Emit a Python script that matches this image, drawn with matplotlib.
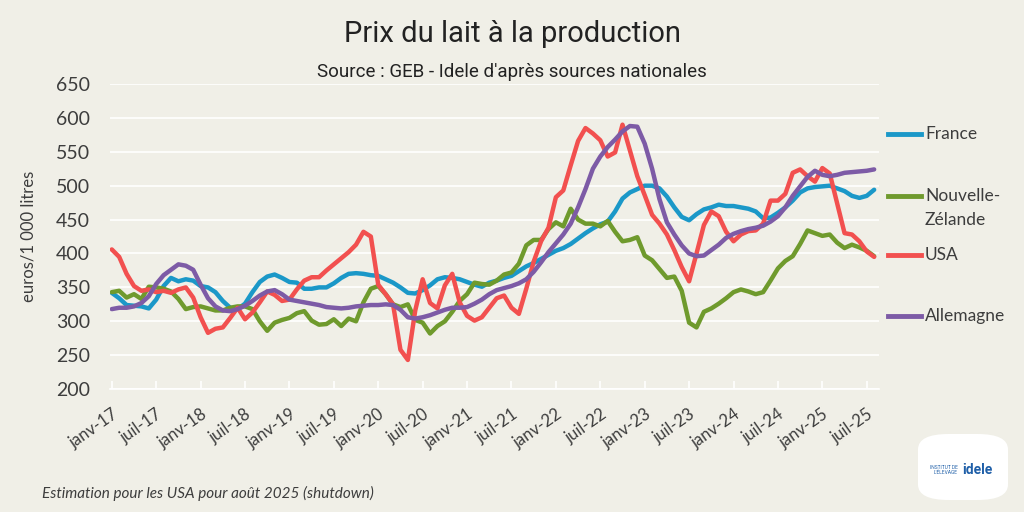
import matplotlib.pyplot as plt
from matplotlib.lines import Line2D
from matplotlib.patches import FancyBboxPatch
import numpy as np

# monthly values, janv-2017 -> août-2025 (euros / 1 000 litres)
france = [342, 334, 324, 323, 322, 319, 332, 352, 364, 359, 362, 360,
          352, 350, 343, 330, 320, 318, 326, 343, 358, 366, 369, 364,
          358, 357, 348, 348, 350, 350, 356, 364, 370, 371, 370, 368,
          367, 362, 357, 350, 342, 341, 346, 353, 362, 365, 364, 362,
          358, 354, 351, 357, 360, 364, 367, 374, 381, 386, 392, 398,
          404, 408, 414, 422, 430, 437, 443, 447, 462, 481, 490, 495,
          500, 500, 496, 484, 468, 454, 449, 458, 465, 468, 472, 470,
          470, 468, 466, 462, 452, 453, 460, 468, 478, 490, 496, 498,
          499, 500, 496, 492, 485, 482, 485, 494]
nz = [343, 345, 335, 340, 333, 351, 350, 348, 344, 333, 318, 321,
      322, 319, 316, 316, 320, 322, 322, 318, 300, 286, 298, 302,
      305, 312, 315, 301, 295, 296, 303, 293, 304, 300, 328, 348,
      352, 340, 325, 321, 325, 302, 298, 282, 293, 300, 314, 330,
      340, 357, 355, 354, 360, 369, 372, 385, 412, 420, 420, 436,
      446, 440, 466, 450, 444, 444, 440, 448, 432, 418, 420, 424,
      397, 390, 377, 364, 366, 345, 298, 291, 314, 319, 326, 334,
      343, 347, 344, 340, 343, 360, 378, 389, 396, 414, 434, 430,
      426, 428, 416, 408, 413, 409, 404, 396]
usa = [406, 395, 370, 352, 345, 347, 343, 345, 342, 347, 350, 335,
       306, 283, 289, 291, 305, 320, 303, 313, 328, 344, 339, 330,
       332, 347, 360, 365, 365, 375, 384, 393, 402, 413, 432, 425,
       354, 340, 325, 258, 243, 316, 362, 327, 319, 353, 370, 328,
       308, 301, 306, 320, 334, 338, 320, 311, 348, 388, 418, 438,
       483, 493, 530, 566, 585, 577, 567, 543, 549, 590, 552, 514,
       486, 457, 444, 428, 405, 380, 359, 400, 442, 462, 455, 432,
       418, 428, 433, 434, 444, 478, 478, 488, 519, 524, 514, 506,
       526, 518, 474, 430, 428, 418, 403, 395]
allemagne = [318, 320, 320, 322, 327, 337, 355, 368, 376, 384, 382, 376,
             354, 334, 322, 316, 315, 318, 323, 330, 338, 344, 346, 340,
             332, 330, 328, 326, 324, 321, 320, 319, 320, 322, 323, 324,
             324, 325, 324, 317, 306, 304, 306, 309, 313, 317, 320, 320,
             321, 326, 332, 340, 346, 349, 352, 356, 362, 373, 387, 402,
             415, 428, 444, 468, 495, 525, 543, 557, 568, 580, 588, 587,
             562, 525, 480, 446, 428, 412, 400, 396, 397, 405, 413, 423,
             429, 433, 436, 438, 441, 447, 455, 468, 485, 499, 513, 522,
             516, 514, 516, 519, 520, 521, 522, 524]

series_names = ["France", "Nouvelle-\nZélande", "USA", "Allemagne"]
series_colors = ["#1b98c8", "#6f9a2d", "#f2504f", "#7d5ba6"]
years = ["17", "18", "19", "20", "21", "22", "23", "24", "25"]
tick_labels = []
for y in years:
    tick_labels += ["janv-" + y, "juil-" + y]

bg = "#f0efe7"
txt = "#3d3d3d"

fig = plt.figure(figsize=(10.24, 5.12), dpi=100, facecolor=bg)
ax = fig.add_axes([0.107, 0.240, 0.751, 0.596], facecolor=bg)

months = np.arange(len(france))
all_series = [france, nz, usa, allemagne]
for vals, col in zip(all_series, series_colors):
    ax.plot(months, vals, color=col, lw=3.2, solid_capstyle="round", zorder=3)

ax.set_ylim(200, 650)
ax.set_xlim(-0.3, 103.6)
ax.set_yticks(range(200, 651, 50))
ax.grid(axis="y", color="white", lw=1.2, zorder=0)
xt = np.arange(0, 104, 6)
ax.set_xticks(xt)
ax.set_xticklabels(tick_labels[:len(xt)], rotation=35,
                   ha="right", rotation_mode="anchor", fontsize=12,
                   color=txt, family="Lato")
for lab in ax.get_yticklabels():
    lab.set_family("Lato")
ax.tick_params(axis="y", length=0, labelsize=14, labelcolor=txt, pad=14)
ax.tick_params(axis="x", color="white", length=6, width=1.2, direction="in", pad=12)
for s in ["top", "right", "left"]:
    ax.spines[s].set_visible(False)
ax.spines["bottom"].set_color("white")
ax.spines["bottom"].set_linewidth(1.2)
ax.set_ylabel("euros/1 000 litres", fontsize=12, color=txt, family="Lato", labelpad=14)

fig.text(0.5, 0.933, "Prix du lait à la production", ha="center", va="center",
         fontsize=21, color="#222222", family="Roboto")
fig.text(0.5, 0.860, "Source : GEB - Idele d'après sources nationales", ha="center",
         va="center", fontsize=13.5, color="#222222", family="Roboto")

# legend on the right
leg_y = [134, 208, 255, 316]
for name, col, yy in zip(series_names, series_colors, leg_y):
    fy = 1 - yy / 512
    line_y = fy if "\n" not in name else 1 - 196 / 512
    fig.add_artist(Line2D([888 / 1024, 921 / 1024], [line_y, line_y], color=col,
                          lw=3.5, transform=fig.transFigure))
    fig.text(925 / 1024, fy, name, ha="left", va="center", fontsize=12.5,
             color=txt, family="Lato", linespacing=1.55)

fig.text(42 / 1024, 1 - 493 / 512, "Estimation pour les USA pour août 2025 (shutdown)",
         fontsize=11, style="italic", color=txt, family="Lato", va="center")

# logo placeholder
logo = FancyBboxPatch((918 / 1024, 1 - 500 / 512), 90 / 1024, 66 / 512,
                      boxstyle="round,pad=0,rounding_size=0.03", fc="white", ec="none",
                      transform=fig.transFigure)
fig.add_artist(logo)
fig.text(962 / 1024, 1 - 470 / 512, "idele", ha="left", va="center", fontsize=10,
         color="#1f5fa8", weight="bold", family="Roboto")
fig.text(958 / 1024, 1 - 470 / 512, "INSTITUT DE\nL'ÉLEVAGE", ha="right", va="center",
         fontsize=3.5, color="#1f5fa8", family="Roboto")

fig.savefig("out.png", dpi=100, facecolor=bg)
